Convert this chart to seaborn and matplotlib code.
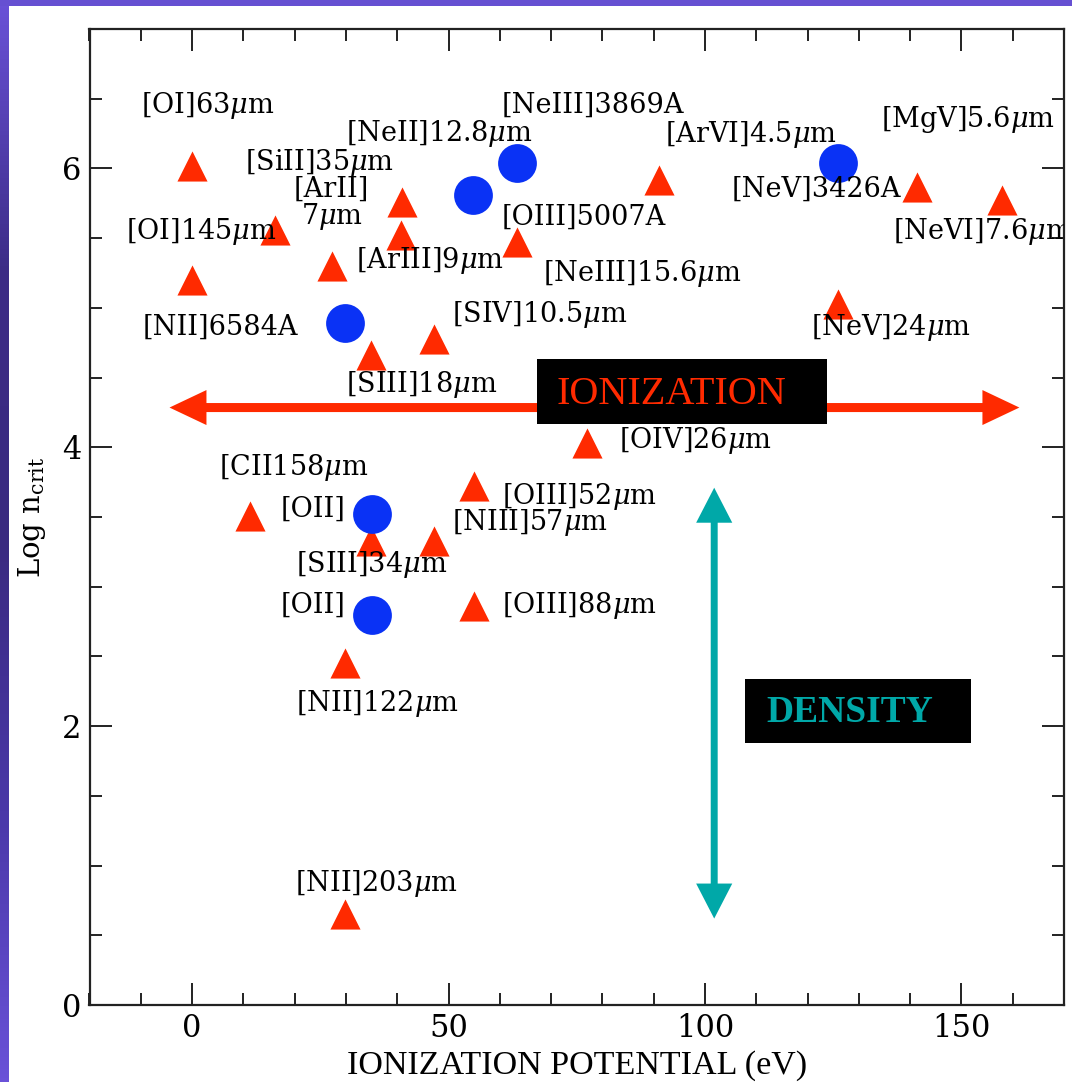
import numpy as np
import pandas as pd
import seaborn as sns
import matplotlib
matplotlib.use("Agg")
import matplotlib.pyplot as plt
from matplotlib.patches import Rectangle
from matplotlib.colors import LinearSegmentedColormap
from matplotlib.ticker import MultipleLocator

# ---------------- data ----------------
line_names = ["[OI]63", "[OI]145", "[SiII]35", "[NeII]12.8", "[ArIII]9", "[ArII]7",
              "[SIII]18", "[SIV]10.5", "[NeIII]15.6", "[ArVI]4.5", "[MgV]5.6",
              "[NeVI]7.6", "[NeV]24", "[OIV]26", "[CII]158", "[SIII]34", "[NIII]57",
              "[OIII]52", "[OIII]88", "[NII]122", "[NII]203",
              "[NII]6584", "[OIII]5007", "[NeIII]3869", "[NeV]3426", "[OII]a", "[OII]b"]
ion_potential = [0.0, 0.0, 16.2, 41.0, 40.7, 27.3,
                 34.8, 47.1, 63.3, 91.0, 141.3,
                 158.0, 126.0, 77.0, 11.3, 34.8, 47.2,
                 54.9, 54.9, 29.8, 29.8,
                 29.8, 54.7, 63.3, 126.0, 35.1, 35.1]
log_ncrit = [6.02, 5.20, 5.56, 5.76, 5.52, 5.30,
             4.66, 4.78, 5.47, 5.92, 5.87,
             5.77, 5.03, 4.03, 3.51, 3.33, 3.33,
             3.72, 2.86, 2.45, 0.65,
             4.89, 5.81, 6.04, 6.04, 3.52, 2.80]
line_kind = ["IR"] * 21 + ["optical"] * 6

label_texts = [r"[OI]63$\mu$m", r"[SiII]35$\mu$m", r"[NeII]12.8$\mu$m",
               r"[OI]145$\mu$m", r"[ArIII]9$\mu$m", r"[NII]6584A",
               r"[SIV]10.5$\mu$m", r"[SIII]18$\mu$m", r"[NeIII]3869A",
               r"[OIII]5007A", r"[NeIII]15.6$\mu$m", r"[ArVI]4.5$\mu$m",
               r"[MgV]5.6$\mu$m", r"[NeV]3426A", r"[NeVI]7.6$\mu$m",
               r"[NeV]24$\mu$m", r"[OIV]26$\mu$m", r"[CII158$\mu$m",
               r"[OII]", r"[OIII]52$\mu$m", r"[NIII]57$\mu$m",
               r"[SIII]34$\mu$m", r"[OII]", r"[OIII]88$\mu$m",
               r"[NII]122$\mu$m", r"[NII]203$\mu$m"]
label_x = [-9.9, 10.3, 30.1, -12.9, 32.0, -9.7, 50.6, 30.1, 60.4, 60.4, 68.5, 92.3,
           134.4, 105.2, 136.6, 120.7, 83.3, 5.2, 17.3, 60.4, 50.6, 20.3, 17.3,
           60.4, 20.3, 20.0]
label_y = [6.45, 6.04, 6.25, 5.55, 5.34, 4.86, 4.955, 4.45, 6.45, 5.65, 5.25, 6.245,
           6.35, 5.85, 5.55, 4.86, 4.05, 3.855, 3.557, 3.65, 3.46, 3.16, 2.864,
           2.864, 2.16, 0.869]

x_ticks = [0, 50, 100, 150]
y_ticks = [0, 2, 4, 6]

df = pd.DataFrame({"line": line_names, "ip": ion_potential,
                   "logn": log_ncrit, "kind": line_kind})

# ---------------- style ----------------
sns.set_style("ticks")
plt.rcParams["font.family"] = ["DejaVu Serif", "DejaVu Sans"]
plt.rcParams["mathtext.fontset"] = "dejavuserif"
plt.rcParams["text.color"] = "black"

RED = "#ff2a00"
BLUE = "#0a32f5"
TEAL = "#00a8a8"
LABEL_FS = 19.5

fig = plt.figure(figsize=(10.72, 10.82), dpi=100, facecolor="white")

# purple slide border
grad = fig.add_axes([0, 0, 9 / 1072, 1])
cmap = LinearSegmentedColormap.from_list("slide", ["#6a52d8", "#3c2c86", "#3a2a80", "#4a38a8", "#6a52d8"])
grad.imshow(np.linspace(0, 1, 256).reshape(-1, 1), aspect="auto", cmap=cmap)
grad.axis("off")
fig.patches.append(Rectangle((0, 1 - 6 / 1082), 1, 6 / 1082, transform=fig.transFigure,
                             facecolor="#6650d2", edgecolor="none", zorder=5))

ax = fig.add_axes([89.5 / 1072, 1 - 1005 / 1082, (1064 - 89.5) / 1072, (1005 - 29) / 1082])
ax.set_facecolor("white")

sns.scatterplot(data=df[df.kind == "IR"], x="ip", y="logn", marker="^", color=RED,
                s=470, linewidth=0, ax=ax, zorder=3, legend=False)
sns.scatterplot(data=df[df.kind == "optical"], x="ip", y="logn", marker="o", color=BLUE,
                s=780, linewidth=0, ax=ax, zorder=4, legend=False)

for t, lx, ly in zip(label_texts, label_x, label_y):
    ax.text(lx, ly, t, fontsize=LABEL_FS, ha="left", va="center", color="black",
            zorder=6, clip_on=True)
ax.text(27.2, 5.745, "[ArII]\n" + r"7$\mu$m", fontsize=LABEL_FS, ha="center", va="center",
        linespacing=0.95, color="black", zorder=6, clip_on=True)

# IONIZATION arrow
arr_y = 4.285
ax.annotate("", xy=(161.3, arr_y), xytext=(-4.4, arr_y),
            arrowprops=dict(arrowstyle="-", lw=6.5, color=RED, shrinkA=14, shrinkB=14),
            zorder=2)
ax.annotate("", xy=(161.3, arr_y), xytext=(-4.4, arr_y),
            arrowprops=dict(arrowstyle="<|-|>,head_length=2.66,head_width=1.26",
                            mutation_scale=10, lw=0, color=RED, shrinkA=0, shrinkB=0),
            zorder=2)
ax.add_patch(Rectangle((67.3, 4.17), 123.7 - 67.3, 4.63 - 4.17, facecolor="black",
                       edgecolor="none", zorder=7))
ax.text(71.0, 4.314, "IONIZATION", family="Liberation Serif", fontsize=29, color=RED,
        ha="left", va="baseline", zorder=8)

# DENSITY arrow
ax.annotate("", xy=(101.8, 0.62), xytext=(101.8, 3.71),
            arrowprops=dict(arrowstyle="-", lw=5, color=TEAL, shrinkA=14, shrinkB=14),
            zorder=2)
ax.annotate("", xy=(101.8, 0.62), xytext=(101.8, 3.71),
            arrowprops=dict(arrowstyle="<|-|>,head_length=2.52,head_width=1.3",
                            mutation_scale=10, lw=0, color=TEAL, shrinkA=0, shrinkB=0),
            zorder=2)
ax.add_patch(Rectangle((107.9, 1.877), 151.8 - 107.9, 2.338 - 1.877, facecolor="black",
                       edgecolor="none", zorder=7))
ax.text(112.0, 2.027, "DENSITY", family="Liberation Serif", fontweight="bold",
        fontsize=27, color=TEAL, ha="left", va="baseline", zorder=8)

# axes
ax.set_xlim(-20, 170)
ax.set_ylim(0, 7)
ax.set_xticks(x_ticks)
ax.set_yticks(y_ticks)
ax.xaxis.set_minor_locator(MultipleLocator(10))
ax.yaxis.set_minor_locator(MultipleLocator(0.5))
ax.tick_params(which="both", direction="in", top=True, right=True, color="#222222",
               width=1.4, labelsize=22, labelcolor="black")
ax.tick_params(which="major", length=16, pad=6)
ax.tick_params(which="minor", length=8.5)
for sp in ax.spines.values():
    sp.set_visible(True)
    sp.set_color("#222222")
    sp.set_linewidth(1.6)

ax.set_xlabel("IONIZATION POTENTIAL (eV)", family="Liberation Serif", fontsize=24.5,
              labelpad=4, color="black")
ax.set_ylabel(r"Log n$_{\rm crit}$", family="DejaVu Serif", fontsize=21, labelpad=10,
              color="black")

fig.savefig("out.png", dpi=100, facecolor="white")
